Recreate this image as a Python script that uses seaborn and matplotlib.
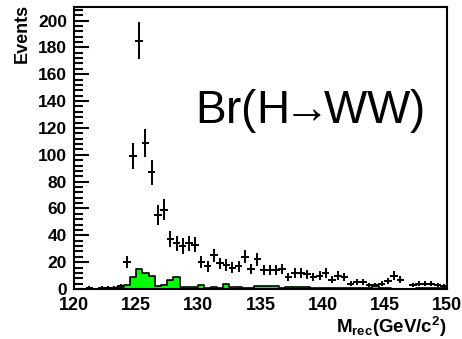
import numpy as np
import pandas as pd
import seaborn as sns
import matplotlib.pyplot as plt

# bin centres (0.5 GeV bins, 120-150)
edges = np.arange(120.0, 150.01, 0.5)
centers = edges[:-1] + 0.25

# data points (events per bin)
data_counts = [0, 0, 1, 0, 1, 1, 1, 2,
               20, 99, 185, 109, 87, 55, 59, 37, 34, 32, 34, 33,
               20, 17, 25, 19, 18, 16, 17, 24, 15, 22,
               14, 14, 14, 15, 9, 12, 12, 11, 9, 10,
               12, 7, 10, 9, 4, 5, 5, 3, 3, 4,
               6, 10, 7, 0, 3, 4, 4, 4, 3, 2]

# background histogram (green)
bkg_counts = [0, 0, 0, 0, 0, 0, 0.3, 1.5,
              3, 9, 15, 12, 10, 2, 3, 7, 9, 1.5, 1.5, 1.5,
              3, 1, 1.5, 1, 4, 1.5, 1.5, 1, 0.5, 2,
              2, 2, 2, 0.5, 1.5, 1.5, 1.5, 1.5, 0.5, 0.5,
              1, 1, 0.5, 0.5, 0.5, 0.5, 0.5, 1, 2, 0.5,
              0.5, 0.3, 0.3, 0.3, 0.3, 0.5, 0.5, 0.5, 1, 1]

df = pd.DataFrame({"mrec": centers, "data": data_counts, "bkg": bkg_counts})

sns.set_theme(style="ticks")
plt.rcParams["font.family"] = ["Liberation Sans", "DejaVu Sans"]
plt.rcParams["mathtext.fontset"] = "custom"
plt.rcParams["mathtext.rm"] = "Liberation Sans"
plt.rcParams["mathtext.bf"] = "Liberation Sans:bold"
plt.rcParams["text.color"] = "black"
plt.rcParams["xtick.color"] = "black"
plt.rcParams["ytick.color"] = "black"
plt.rcParams["axes.labelcolor"] = "black"

fig = plt.figure(figsize=(4.62, 3.39), dpi=100)
ax = fig.add_axes([0.160, 0.1475, 0.8075, 0.8315])

sns.histplot(data=df, x="mrec", weights="bkg", binwidth=0.5, binrange=(120, 150),
             element="step", fill=True, color="#00ff00", alpha=1,
             edgecolor="black", linewidth=1.2, ax=ax)

pts = df[df["data"] > 0]
ax.errorbar(pts["mrec"], pts["data"], yerr=np.sqrt(pts["data"]), xerr=0.3,
            fmt="none", ecolor="black", elinewidth=1.4, capsize=0)

ax.set_xlim(120, 150)
ax.set_ylim(0, 210)
ax.set_xticks([120, 125, 130, 135, 140, 145, 150])
ax.set_yticks(np.arange(0, 201, 20))
ax.set_yticks(np.arange(0, 209, 4), minor=True)
ax.tick_params(axis="y", which="major", direction="in", length=11, width=1.5,
               labelsize=12.5, pad=5)
ax.tick_params(axis="y", which="minor", direction="in", length=6.5, width=1.5)
ax.tick_params(axis="x", which="both", length=0, labelsize=13, pad=6)
for lab in ax.get_xticklabels() + ax.get_yticklabels():
    lab.set_fontweight("bold")
for sp in ax.spines.values():
    sp.set_visible(True)
    sp.set_linewidth(1.5)
    sp.set_color("black")

ax.set_xlabel("")
ax.set_ylabel("")
fig.text(22 / 462, 1 - 4 / 339, "Events", rotation=90, ha="center", va="top",
         fontsize=13, fontweight="bold")
fig.text(447 / 462, 0.0, r"$\mathbf{M_{rec}(GeV/c^{2})}$",
         ha="right", va="bottom", fontsize=13.5)

ax.text(0.325, 0.63, r"Br(H$\!\!\rightarrow\!\!$WW)", transform=ax.transAxes,
        fontsize=33, ha="left", va="center")

fig.savefig("out.png", dpi=100)
